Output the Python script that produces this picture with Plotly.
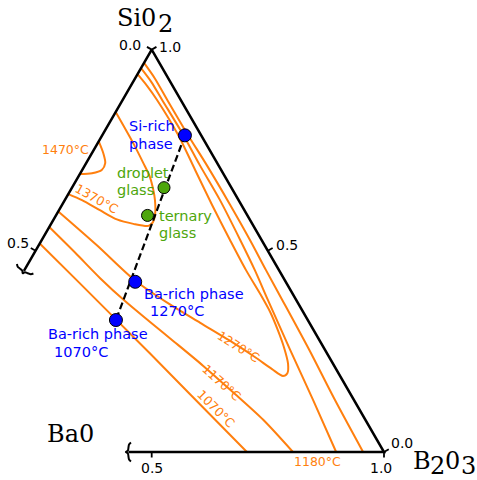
import numpy as np
import plotly.graph_objects as go

# ---------------- data (mole fractions, BaO = 1 - SiO2 - B2O3) ----------------
iso1470_sio2 = [0.691, 0.693, 0.701, 0.718, 0.742, 0.772]
iso1470_b2o3 = [0.000, 0.025, 0.042, 0.041, 0.025, 0.000]

iso1370_sio2 = [0.845, 0.767, 0.718, 0.684, 0.651, 0.626, 0.593, 0.570, 0.562, 0.567, 0.578, 0.601, 0.626, 0.641]
iso1370_b2o3 = [0.000, 0.077, 0.123, 0.154, 0.178, 0.194, 0.211, 0.217, 0.212, 0.177, 0.136, 0.088, 0.037, 0.000]

iso1270_sio2 = [0.598, 0.514, 0.427, 0.370, 0.321, 0.276, 0.236, 0.206, 0.189, 0.196, 0.219, 0.261,
                0.303, 0.348, 0.390, 0.452, 0.527, 0.614, 0.701, 0.788, 0.875, 0.910, 0.939]
iso1270_b2o3 = [0.000, 0.125, 0.250, 0.350, 0.444, 0.531, 0.604, 0.656, 0.688, 0.694, 0.684, 0.654,
                0.620, 0.581, 0.540, 0.477, 0.405, 0.323, 0.243, 0.163, 0.074, 0.035, 0.000]

iso1170_sio2 = [0.559, 0.495, 0.432, 0.375, 0.323, 0.273, 0.214, 0.149, 0.080, 0.000]
iso1170_b2o3 = [0.000, 0.088, 0.173, 0.255, 0.335, 0.413, 0.504, 0.600, 0.700, 0.804]

iso1070_sio2 = [0.518, 0.419, 0.329, 0.244, 0.144, 0.000]
iso1070_b2o3 = [0.000, 0.136, 0.259, 0.375, 0.510, 0.705]

iso_si_a_sio2 = [0.954, 0.920, 0.875, 0.788, 0.713, 0.626, 0.527, 0.452, 0.378, 0.254, 0.129, 0.000]
iso_si_a_b2o3 = [0.000, 0.039, 0.085, 0.174, 0.247, 0.334, 0.427, 0.496, 0.561, 0.671, 0.783, 0.897]

iso_si_b_sio2 = [0.967, 0.929, 0.875, 0.788, 0.713, 0.614, 0.527, 0.452, 0.378, 0.254, 0.129, 0.000]
iso_si_b_b2o3 = [0.000, 0.042, 0.096, 0.184, 0.262, 0.362, 0.448, 0.520, 0.592, 0.712, 0.830, 0.955]

phase_names = ["Si-rich phase", "Ba-rich phase 1270°C", "Ba-rich phase 1070°C"]
phase_sio2 = [0.787, 0.423, 0.328]
phase_b2o3 = [0.178, 0.253, 0.259]

glass_names = ["droplet glass", "ternary glass"]
glass_sio2 = [0.657, 0.588]
glass_b2o3 = [0.198, 0.197]

tie_sio2 = [0.787, 0.328]
tie_b2o3 = [0.178, 0.259]

bao_limit = 0.55
tick_values = [0.0, 0.5, 1.0]

# ---------------- styling ----------------
ORANGE = "#ff7f0e"
BLUE = "#0000ff"
GREEN = "#4ea60c"
H = np.sqrt(3) / 2
PX = 1 / 464.6   # one pixel in data units
SANS = "DejaVu Sans"
SERIF = "DejaVu Serif"


def proj(s, c):
    s = np.asarray(s, float)
    c = np.asarray(c, float)
    return c + s / 2, s * H


fig = go.Figure()

# isotherms
for s, c in [(iso1470_sio2, iso1470_b2o3), (iso1370_sio2, iso1370_b2o3),
             (iso1270_sio2, iso1270_b2o3), (iso1170_sio2, iso1170_b2o3),
             (iso1070_sio2, iso1070_b2o3), (iso_si_a_sio2, iso_si_a_b2o3),
             (iso_si_b_sio2, iso_si_b_b2o3)]:
    x, y = proj(s, c)
    fig.add_trace(go.Scatter(x=x, y=y, mode="lines",
                             line=dict(color=ORANGE, width=2, shape="spline", smoothing=0.8),
                             hoverinfo="skip", showlegend=False))

# triangle frame (BaO axis limited)
lim = 1 - bao_limit
fx, fy = proj([lim, 1, 0, 0], [0, 0, 1, lim])
fig.add_trace(go.Scatter(x=fx, y=fy, mode="lines", line=dict(color="black", width=2.5),
                         hoverinfo="skip", showlegend=False))

# ticks
tx, ty = [], []
L = 5.5 * PX
c30, s30 = np.cos(np.pi / 6), np.sin(np.pi / 6)
for v in tick_values:
    if v <= bao_limit:                      # left axis (BaO)
        bx, by = proj(1 - v, 0)
        tx += [bx, bx - c30 * L, None]; ty += [by, by + s30 * L, None]
    bx, by = proj(v, 1 - v)                 # right axis (SiO2)
    tx += [bx, bx + c30 * L, None]; ty += [by, by + s30 * L, None]
    if v >= lim:                            # bottom axis (B2O3)
        bx, by = proj(0, v)
        tx += [bx, bx, None]; ty += [by, by - L, None]
fig.add_trace(go.Scatter(x=tx, y=ty, mode="lines", line=dict(color="black", width=1.8),
                         hoverinfo="skip", showlegend=False))

# axis break marks ("{"-like)
brk = [(-2.5, 9.5), (-0.6, 7.5), (0, 4.5), (0.6, 1.5), (2.6, 0), (0.6, -1.5), (0, -4.5), (-0.6, -7.5), (-2.5, -9.5)]
for (ex, ey), u, v in [(proj(lim, 0), (-0.5, -H), (H, -0.5)),
                       (proj(0, lim), (-1.0, 0.0), (0.0, 1.0))]:
    bx = [float(ex) + (a * u[0] + b * v[0]) * PX for a, b in brk]
    by = [float(ey) + (a * u[1] + b * v[1]) * PX for a, b in brk]
    fig.add_trace(go.Scatter(x=bx, y=by, mode="lines", line=dict(color="black", width=2, shape="spline"),
                             hoverinfo="skip", showlegend=False))

# tie line
x, y = proj(tie_sio2, tie_b2o3)
fig.add_trace(go.Scatter(x=x, y=y, mode="lines", line=dict(color="black", width=2.2, dash="7px,3.5px"),
                         hoverinfo="skip", showlegend=False))

# points
x, y = proj(phase_sio2, phase_b2o3)
fig.add_trace(go.Scatter(x=x, y=y, mode="markers", text=phase_names,
                         marker=dict(color=BLUE, size=13, line=dict(color="black", width=1)),
                         showlegend=False))
x, y = proj(glass_sio2, glass_b2o3)
fig.add_trace(go.Scatter(x=x, y=y, mode="markers", text=glass_names,
                         marker=dict(color=GREEN, size=12, line=dict(color="black", width=1)),
                         showlegend=False))

ann = []


def add_text(s, c, lines, color, size, xanchor="center", angle=0, shifts=None, spacing=17.6):
    x, y = proj(s, c)
    for i, t in enumerate(lines):
        dx = shifts[i] if shifts else 0
        ann.append(dict(x=float(x), y=float(y), text=t, showarrow=False, xanchor=xanchor, yanchor="middle",
                        xshift=dx, yshift=-i * spacing, textangle=angle,
                        font=dict(family=SANS, size=size, color=color)))


# phase labels
add_text(0.809, 0.043, ["Si-rich", "phase"], BLUE, 14.5, xanchor="left")
add_text(0.694, 0.075, ["droplet", "glass"], GREEN, 14.5, xanchor="left")
add_text(0.587, 0.218, ["ternary", "glass"], GREEN, 14.5, xanchor="left")
add_text(0.393, 0.283, ["Ba-rich phase", "1270°C"], BLUE, 14.5, xanchor="left", shifts=[0, 5.5])
add_text(0.293, 0.126, ["Ba-rich phase", "1070°C"], BLUE, 14.5, xanchor="left", shifts=[0, 5.5])

# isotherm labels
add_text(0.751, -0.062, ["1470°C"], ORANGE, 12.5)
add_text(0.629, 0.066, ["1370°C"], ORANGE, 12.5, angle=29)
add_text(0.262, 0.555, ["1270°C"], ORANGE, 12.5, angle=32)
add_text(0.172, 0.564, ["1170°C"], ORANGE, 12.5, angle=42)
add_text(0.109, 0.584, ["1070°C"], ORANGE, 12.5, angle=45)
add_text(-0.024, 0.869, ["1180°C"], ORANGE, 12.5)


# tick labels (anchored at tick base, offset in pixels)
def tick_label(s, c, text, dx, dy):
    x, y = proj(s, c)
    ann.append(dict(x=float(x), y=float(y), text=text, showarrow=False, xanchor="center", yanchor="middle",
                    xshift=dx, yshift=dy, font=dict(family=SANS, size=14, color="black")))


tick_label(1.0, 0.0, f"{tick_values[0]:.1f}", -22, 5)
tick_label(0.5, 0.0, f"{tick_values[1]:.1f}", -17.5, 8)
tick_label(1.0, 0.0, f"{tick_values[2]:.1f}", 18.5, 3)
tick_label(0.5, 0.5, f"{tick_values[1]:.1f}", 19, 6)
tick_label(0.0, 1.0, f"{tick_values[0]:.1f}", 18, 9.5)
tick_label(0.0, 0.5, f"{tick_values[1]:.1f}", 0, -15.5)
tick_label(0.0, 1.0, f"{tick_values[2]:.1f}", -3, -15.5)


# corner labels
def corner(x, y, text, size=24, anchor="left"):
    ann.append(dict(x=x, y=y, text=text, showarrow=False, xanchor=anchor, yanchor="middle",
                    font=dict(family=SERIF, size=size, color="black")))


corner(0.4220, 0.9348, "Si0")
corner(0.5103, 0.9212, "2")
corner(0.2703, 0.0394, "Ba0")
corner(1.0590, -0.0190, "B")
corner(1.0945, -0.0305, "2")
corner(1.1275, -0.0190, "0")
corner(1.1605, -0.0305, "3")

fig.update_layout(
    width=477, height=480, margin=dict(l=0, r=0, t=0, b=0),
    plot_bgcolor="white", paper_bgcolor="white",
    xaxis=dict(range=[0.17348, 1.20017], visible=False, fixedrange=True),
    yaxis=dict(range=[-0.06027, 0.97288], visible=False, fixedrange=True),
    annotations=ann, showlegend=False,
)

fig.write_html("out.html", config={"displayModeBar": False},
               post_script="document.body.style.margin='0px';document.body.style.overflow='hidden';")
